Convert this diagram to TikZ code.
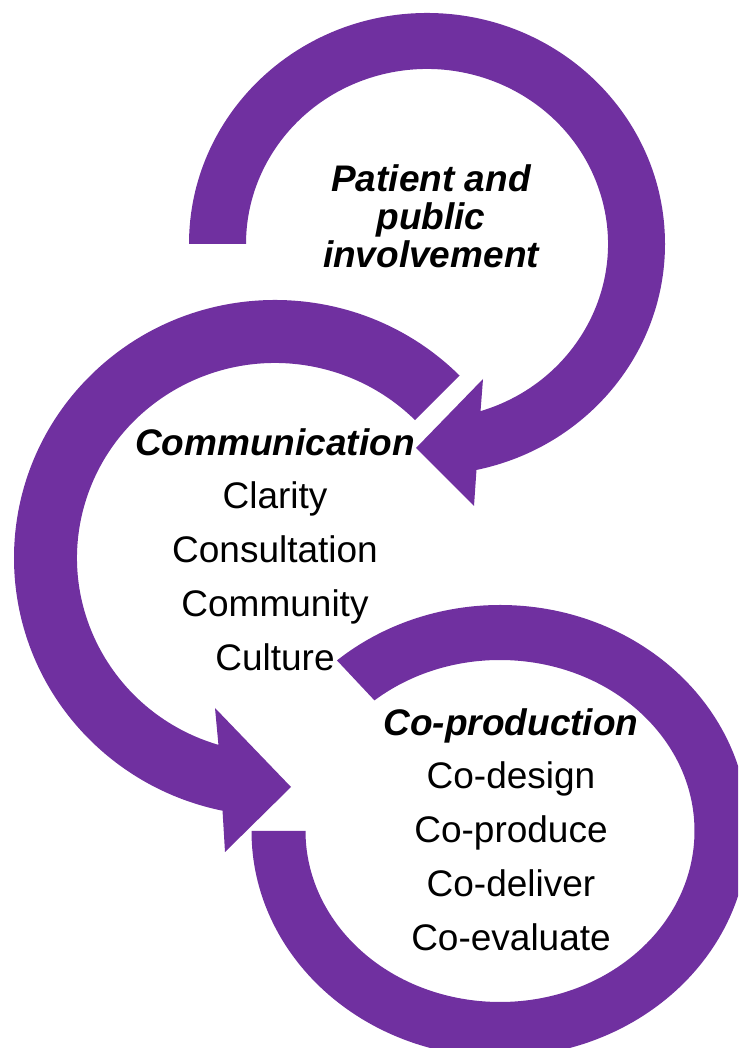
\documentclass[tikz,border=0pt]{standalone}
\usepackage{fontspec}
\setmainfont{Liberation Sans}
\usetikzlibrary{calc}
\definecolor{ringpurple}{HTML}{7030A0}
\begin{document}
\begin{tikzpicture}[x=1pt,y=1pt,
  band/.style={fill=ringpurple},
  headtext/.style={align=center,inner sep=0pt,anchor=north,
    font=\bfseries\itshape\fontsize{37}{38}\selectfont},
  listtext/.style={align=center,inner sep=0pt,anchor=north,
    font=\fontsize{37}{53.8}\selectfont}]
\useasboundingbox (0,0) rectangle (738,1048);
\clip (0,0) rectangle (738,1048);

% centres of the three rings
\coordinate (cA) at (427,804);
\coordinate (cB) at (275,490);
\coordinate (cC) at (500,217);

% top ring: tail on the left, head pointing back in below
\fill[band] ($(cA)+(180:238 and 231)$)
  arc[start angle=180,end angle=-78,x radius=238pt,y radius=231pt]
  -- (474,542) -- (416,600) -- (483,669)
  -- ($(cA)+(-72.8:181 and 175)$)
  arc[start angle=-72.8,end angle=180,x radius=181pt,y radius=175pt]
  -- cycle;

% middle ring: tail at the upper right, head at the bottom
\fill[band] ($(cB)+(45:261 and 258)$)
  arc[start angle=45,end angle=258.4,x radius=261pt,y radius=258pt]
  -- (225,196) -- (291,261) -- (215,340)
  -- ($(cB)+(253.4:198 and 195)$)
  arc[start angle=253.4,end angle=45,x radius=198pt,y radius=195pt]
  -- cycle;

% bottom ring: open block arc
\fill[band] ($(cC)+(180:248.5 and 226)$)
  arc[start angle=180,end angle=491,x radius=248.5pt,y radius=226pt]
  -- ($(cC)+(490.2:194.5 and 171)$)
  arc[start angle=490.2,end angle=180,x radius=194.5pt,y radius=171pt]
  -- cycle;

% labels
\node[headtext] (ppi) at (431,883.5) {Patient and\\public\\involvement};
\node[listtext] (comm) at (275,620)
  {\textbf{\textit{Communication}}\\Clarity\\Consultation\\Community\\Culture};
\node[listtext] (coprod) at (511,340)
  {\textbf{\textit{Co-production}}\\Co-design\\Co-produce\\Co-deliver\\Co-evaluate};
\end{tikzpicture}
\end{document}
